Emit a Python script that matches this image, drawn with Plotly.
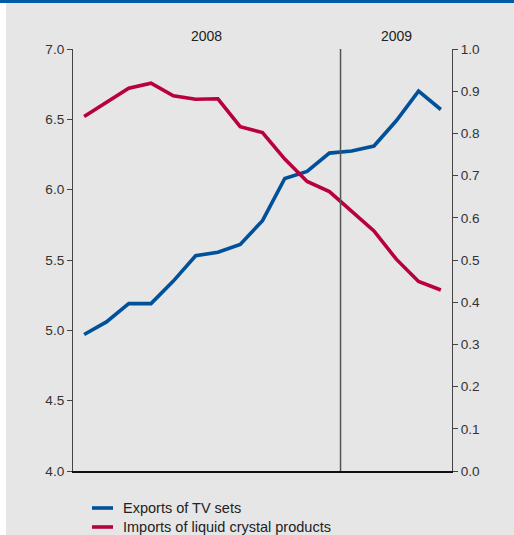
import plotly.graph_objects as go

months = ["Jan 2008", "Feb 2008", "Mar 2008", "Apr 2008", "May 2008", "Jun 2008",
          "Jul 2008", "Aug 2008", "Sep 2008", "Oct 2008", "Nov 2008", "Dec 2008",
          "Jan 2009", "Feb 2009", "Mar 2009", "Apr 2009", "May 2009"]
exports_tv = [4.97, 5.06, 5.19, 5.19, 5.35, 5.53, 5.555, 5.61, 5.78, 6.08, 6.13, 6.26,
              6.275, 6.31, 6.49, 6.70, 6.57]
imports_lcd = [0.840, 0.873, 0.907, 0.919, 0.889, 0.881, 0.882, 0.816, 0.802, 0.739,
               0.686, 0.662, 0.616, 0.569, 0.502, 0.449, 0.429]
year_labels = ["2008", "2009"]
left_ticks = [4.0, 4.5, 5.0, 5.5, 6.0, 6.5, 7.0]
right_ticks = [0.0, 0.1, 0.2, 0.3, 0.4, 0.5, 0.6, 0.7, 0.8, 0.9, 1.0]
series_names = ["Exports of TV sets", "Imports of liquid crystal products"]

BLUE = "#00509a"
RED = "#b8003e"
W, H = 514, 535
ML, MR, MT, MB = 73, 62, 49, 64
PW = W - ML - MR
PH = H - MT - MB

x = list(range(len(months)))

fig = go.Figure()
fig.add_trace(go.Scatter(x=x, y=exports_tv, mode="lines", name=series_names[0],
                         line=dict(color=BLUE, width=3.6), yaxis="y", showlegend=False))
fig.add_trace(go.Scatter(x=x, y=imports_lcd, mode="lines", name=series_names[1],
                         line=dict(color=RED, width=3.6), yaxis="y2", showlegend=False))

def px_x(p):
    return (p - ML) / PW

def px_y(p):
    return 1 - (p - MT) / PH

shapes = [
    # top blue band
    dict(type="rect", xref="paper", yref="paper", x0=px_x(0), x1=px_x(W),
         y0=px_y(3), y1=px_y(0), fillcolor="#005ca3", line=dict(width=0), layer="above"),
    # white strip at left
    dict(type="rect", xref="paper", yref="paper", x0=px_x(0), x1=px_x(6),
         y0=px_y(H), y1=px_y(3), fillcolor="white", line=dict(width=0), layer="below"),
    # year separator
    dict(type="line", xref="x", yref="paper", x0=11.5, x1=11.5, y0=0, y1=1,
         line=dict(color="#555555", width=1.5)),
]

annotations = []
year_centers = [5.5, 14]
for lab, xc in zip(year_labels, year_centers):
    annotations.append(dict(text=lab, x=xc, xref="x", y=px_y(36), yref="paper",
                            showarrow=False, font=dict(size=14, color="#222222"),
                            xanchor="center", yanchor="middle"))

# manual legend
for i, (name, col) in enumerate(zip(series_names, [BLUE, RED])):
    yy = 508 + i * 19
    shapes.append(dict(type="line", xref="paper", yref="paper", x0=px_x(92), x1=px_x(113),
                       y0=px_y(yy), y1=px_y(yy), line=dict(color=col, width=3.6)))
    annotations.append(dict(text=name, x=px_x(121), xref="paper", y=px_y(yy), yref="paper",
                            showarrow=False, font=dict(size=14.5, color="#222222"),
                            xanchor="left", yanchor="middle"))

fig.update_layout(
    width=W, height=H,
    margin=dict(l=ML, r=MR, t=MT, b=MB),
    paper_bgcolor="#e6e6e6", plot_bgcolor="#e6e6e6",
    font=dict(family="Liberation Sans, Arial, sans-serif", size=13.6, color="#333333"),
    xaxis=dict(range=[-0.5, 16.5], showticklabels=False, ticks="", showgrid=False,
               zeroline=False, showline=True, linecolor="#111111", linewidth=1.5),
    yaxis=dict(range=[4, 7], tickvals=left_ticks, tickformat=".1f", ticks="outside",
               ticklen=5, tickcolor="#444444", showline=True, linecolor="#444444",
               linewidth=1, showgrid=False, zeroline=False),
    yaxis2=dict(range=[0, 1], tickvals=right_ticks, tickformat=".1f", ticks="outside",
                ticklen=5, tickcolor="#444444", showline=True, linecolor="#444444",
                linewidth=1, showgrid=False, zeroline=False, overlaying="y", side="right"),
    shapes=shapes,
    annotations=annotations,
)

fig.write_html("out.html", config={"displayModeBar": False},
               post_script="document.body.style.margin='0';")
